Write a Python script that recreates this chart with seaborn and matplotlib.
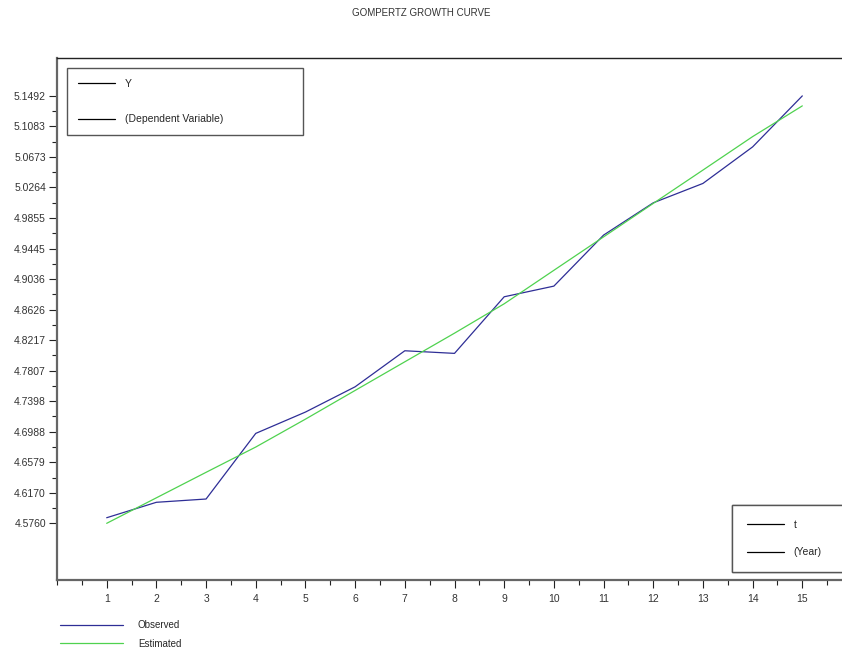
import numpy as np
import pandas as pd
import matplotlib
matplotlib.use("Agg")
import matplotlib.pyplot as plt
from matplotlib.lines import Line2D
from matplotlib.ticker import MultipleLocator
import seaborn as sns

# ---------------------------------------------------------------------------
# Data
# ---------------------------------------------------------------------------
years = list(range(1, 16))
observed = [4.5835, 4.6042, 4.6086, 4.6966, 4.7252, 4.7591, 4.8074, 4.8039,
            4.8798, 4.8941, 4.9625, 5.0058, 5.0318, 5.0808, 5.1492]
estimated = [4.5760, 4.6102, 4.6444, 4.6783, 4.7157, 4.7542, 4.7926, 4.8310,
             4.8704, 4.9153, 4.9601, 5.0050, 5.0497, 5.0946, 5.1358]
ytick_labels = ["4.5760", "4.6170", "4.6579", "4.6988", "4.7398", "4.7807",
                "4.8217", "4.8626", "4.9036", "4.9445", "4.9855", "5.0264",
                "5.0673", "5.1083", "5.1492"]
series_names = ["Observed", "Estimated"]
series_colors = ["#2e2e96", "#4fd24f"]

df = pd.DataFrame({
    "t": years * 2,
    "value": observed + estimated,
    "series": [series_names[0]] * len(years) + [series_names[1]] * len(years),
})

# ---------------------------------------------------------------------------
# Figure
# ---------------------------------------------------------------------------
sns.set_style("ticks")
plt.rcParams["font.family"] = ["Liberation Sans", "DejaVu Sans"]
plt.rcParams["font.size"] = 7.5

fig = plt.figure(figsize=(8.42, 6.5), dpi=100)
ax = fig.add_axes([57 / 842, 70 / 650, 795 / 842, 522 / 650])

sns.lineplot(data=df, x="t", y="value", hue="series",
             palette=dict(zip(series_names, series_colors)),
             linewidth=0.9, legend=False, ax=ax)

ax.set_xlim(0, 16)
ax.set_ylim(4.5, 5.2)

# y ticks span data min..max in 14 equal steps
ymin, ymax = 4.5760, 5.1492
yt = np.linspace(ymin, ymax, len(ytick_labels))
ax.set_yticks(yt)
ax.set_yticklabels(ytick_labels)
ax.set_yticks((yt[:-1] + yt[1:]) / 2, minor=True)
ax.set_xticks(years)
ax.set_xticklabels([str(y) for y in years])
ax.xaxis.set_minor_locator(MultipleLocator(0.5))

ax.tick_params(which="major", direction="out", length=6, width=0.8,
               color="#222222", labelcolor="#333333", labelsize=7.5, pad=2)
ax.tick_params(which="minor", direction="out", length=3.5, width=0.8,
               color="#222222")
ax.tick_params(axis="x", pad=4)

ax.set_xlabel("")
ax.set_ylabel("")
for side in ["left", "bottom"]:
    ax.spines[side].set_color("#666666")
    ax.spines[side].set_linewidth(1.6)
ax.spines["top"].set_visible(True)
ax.spines["top"].set_color("#222222")
ax.spines["top"].set_linewidth(1.0)
ax.spines["right"].set_visible(False)

fig.text(0.5, 1 - 13 / 650, "GOMPERTZ GROWTH CURVE", ha="center", va="center",
         fontsize=7, color="#333333")

# ---------------------------------------------------------------------------
# Axis caption boxes (Scilab-style)
# ---------------------------------------------------------------------------
black = [Line2D([], [], color="black", linewidth=0.9) for _ in range(2)]
leg_y = ax.legend(black, ["Y", "(Dependent Variable)"], loc="upper left",
                  bbox_to_anchor=(10 / 795, 1 - 75 / 522, 236 / 795, 65 / 522),
                  mode="expand", borderaxespad=0, fancybox=False,
                  edgecolor="#555555", framealpha=1, fontsize=7.5,
                  handlelength=3.6, handletextpad=0.9, labelspacing=2.45,
                  borderpad=1.05)
leg_y.get_frame().set_linewidth(1.0)
ax.add_artist(leg_y)

leg_t = ax.legend(black, ["t", "(Year)"], loc="lower left",
                  bbox_to_anchor=(675 / 795, 8 / 522, 140 / 795, 67 / 522),
                  mode="expand", borderaxespad=0, fancybox=False,
                  edgecolor="#555555", framealpha=1, fontsize=7.5,
                  handlelength=3.6, handletextpad=0.9, labelspacing=1.7,
                  borderpad=1.4)
leg_t.get_frame().set_linewidth(1.0)
ax.add_artist(leg_t)

# series legend below the plot
handles = [Line2D([], [], color=c, linewidth=0.9) for c in series_colors]
fig.legend(handles, series_names, loc="upper left",
           bbox_to_anchor=(60 / 842, 1 - 620 / 650), frameon=False,
           borderaxespad=0, borderpad=0, fontsize=7, handlelength=6.5,
           handletextpad=1.5, labelspacing=0.9)

fig.savefig("out.png", dpi=100)
plt.close()
